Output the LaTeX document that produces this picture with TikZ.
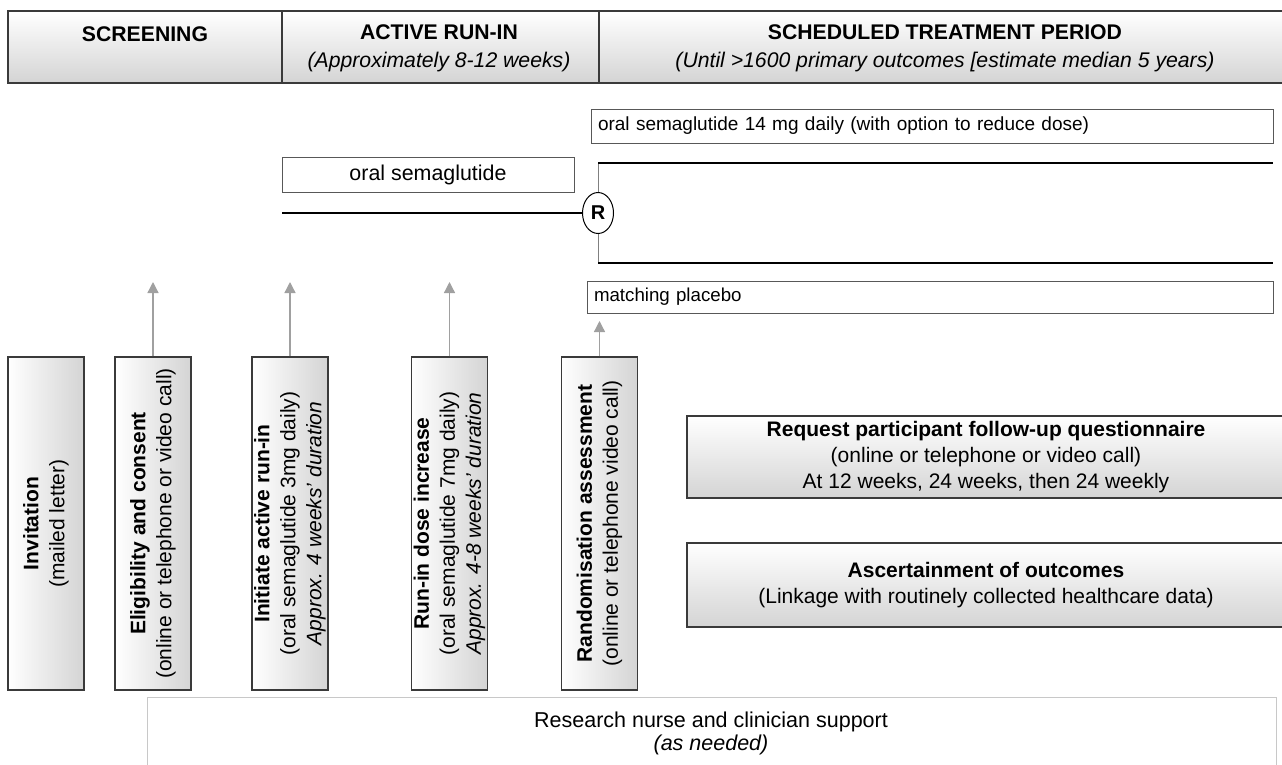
\documentclass[tikz,border=0pt]{standalone}
\usepackage{fontspec}
\setmainfont{Liberation Sans}
\usetikzlibrary{arrows.meta,shapes.geometric}
\definecolor{bordc}{HTML}{3A3A3A}
\definecolor{shadec}{HTML}{D4D4D4}
\definecolor{arrc}{HTML}{A0A0A0}
\definecolor{suppc}{HTML}{C8C8C8}
\tikzset{
  txt/.style={font=\fontsize{21}{26}\selectfont, align=center, inner sep=0pt},
  hdrtxt/.style={font=\fontsize{21.2}{28}\selectfont, align=center, inner sep=0pt},
  hdrcell/.style={draw=bordc, line width=1.3pt, top color=white, bottom color=shadec, inner sep=0pt},
  vbox/.style={draw=bordc, line width=1.2pt, left color=white, right color=shadec, minimum width=76, minimum height=333, inner sep=0pt},
  hbox/.style={draw=bordc, line width=1.2pt, top color=white, bottom color=shadec, inner sep=0pt, font=\fontsize{21}{26}\selectfont, align=center},
  plainbox/.style={draw=bordc!85, line width=1pt, fill=white, inner sep=0pt},
  uparrow/.style={draw=arrc, line width=1.3pt, -{Triangle[length=11pt,width=11pt]}, arrc},
  trtline/.style={draw=black, line width=2pt},
  thinline/.style={draw=gray, line width=1pt},
}
\begin{document}
\begin{tikzpicture}[x=1pt,y=-1pt]
\useasboundingbox (0,0) rectangle (1282,764);
% header
\node[hdrcell, minimum width=274, minimum height=72] (h1) at (145,47) {};
\node[hdrcell, minimum width=317, minimum height=72] (h2) at (440.5,47) {};
\node[hdrcell, minimum width=690, minimum height=72] (h3) at (944,47) {};
\node[hdrtxt] (t1) at (145,34) {\textbf{SCREENING}};
\node[hdrtxt] (t2) at (439,48) {\textbf{ACTIVE RUN-IN}\\\textit{(Approximately 8-12 weeks)}};
\node[hdrtxt] (t3) at (945,48) {\textbf{SCHEDULED TREATMENT PERIOD}\\\textit{(Until >1600 primary outcomes [estimate median 5 years)}};
% treatment arms
\node[plainbox, minimum height=34, text width=668, inner xsep=7pt, align=left, font=\fontsize{19}{22}\selectfont] (active) at (932,126) {oral semaglutide 14 mg daily (with option to reduce dose)};
\node[plainbox, minimum width=292, minimum height=35, align=center, font=\fontsize{21.4}{24}\selectfont] (runin) at (428,174.5) {oral semaglutide};
\node[draw=black, line width=1pt, ellipse, minimum width=31, minimum height=41, inner sep=0pt, fill=white, font=\fontsize{20}{22}\selectfont\bfseries] (R) at (598,213) {R};
\coordinate (lstart) at (282,213);
\draw[trtline] (lstart) -- (R.west);
\coordinate (uend) at (1273,163);
\coordinate (lend) at (1273,263);
\draw[thinline] (R.north) -- (R.north |- uend);
\draw[trtline] (R.north |- uend) -- (uend);
\draw[thinline] (R.south) -- (R.south |- lend);
\draw[trtline] (R.south |- lend) -- (lend);
\node[plainbox, minimum height=32, text width=672, inner xsep=7pt, align=left, font=\fontsize{18.7}{22}\selectfont] (placebo) at (930,297) {matching placebo};
% vertical boxes
\node[vbox] (v1) at (46,523.5) {};
\node[vbox] (v2) at (153,523.5) {};
\node[vbox] (v3) at (290,523.5) {};
\node[vbox] (v4) at (449.5,523.5) {};
\node[vbox] (v5) at (599.5,523.5) {};
\node[txt, rotate=90] (v1t) at (v1) {\textbf{Invitation}\\(mailed letter)};
\node[txt, rotate=90] (v2t) at (v2) {\textbf{Eligibility and consent}\\(online or telephone or video call)};
\node[txt, rotate=90] (v3t) at (v3) {\textbf{Initiate active run-in}\\(oral semaglutide 3mg daily)\\\textit{Approx. 4 weeks’ duration}};
\node[txt, rotate=90] (v4t) at (v4) {\textbf{Run-in dose increase}\\(oral semaglutide 7mg daily)\\\textit{Approx. 4-8 weeks’ duration}};
\node[txt, rotate=90] (v5t) at (v5) {\textbf{Randomisation assessment}\\(online or telephone video call)};
% arrows
\coordinate (a2) at (153,282);
\coordinate (a3) at (290,282);
\coordinate (a4) at (449.5,282);
\coordinate (a5) at (599.5,321);
\draw[uparrow] (v2.north) -- (a2);
\draw[uparrow] (v3.north) -- (a3);
\draw[uparrow] (v4.north) -- (a4);
\draw[uparrow] (v5.north) -- (a5);
% follow-up boxes
\node[hbox, minimum width=598, minimum height=82] (req) at (986,457) {\textbf{Request participant follow-up questionnaire}\\(online or telephone or video call)\\At 12 weeks, 24 weeks, then 24 weekly};
\node[hbox, minimum width=598, minimum height=84] (asc) at (986,585) {\textbf{Ascertainment of outcomes}\\(Linkage with routinely collected healthcare data)};
% support
\node[draw=suppc, line width=1pt, fill=white, minimum width=1129, minimum height=80, inner sep=0pt] (supp) at (711.5,737) {};
\node[txt, font=\fontsize{21.5}{23}\selectfont] (suppt) at (711,733) {Research nurse and clinician support\\\textit{(as needed)}};
\end{tikzpicture}
\end{document}
